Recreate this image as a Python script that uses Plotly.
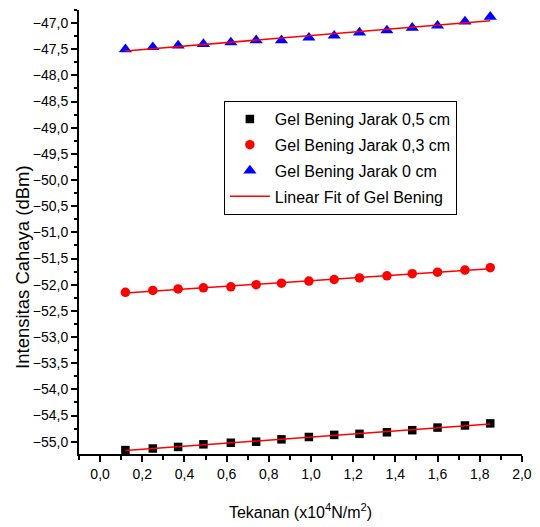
import numpy as np
import plotly.graph_objects as go

pressure = [0.12, 0.25, 0.37, 0.49, 0.62, 0.74, 0.86, 0.99, 1.11, 1.23, 1.36, 1.48, 1.60, 1.73, 1.85]
jarak_05 = [-55.16, -55.13, -55.10, -55.05, -55.02, -55.00, -54.955, -54.91, -54.87, -54.85, -54.82, -54.78, -54.73, -54.69, -54.65]
jarak_03 = [-52.145, -52.11, -52.08, -52.06, -52.04, -52.00, -51.97, -51.93, -51.90, -51.87, -51.83, -51.79, -51.76, -51.72, -51.675]
jarak_0 = [-47.50, -47.46, -47.43, -47.40, -47.37, -47.33, -47.33, -47.28, -47.24, -47.18, -47.14, -47.09, -47.05, -46.97, -46.88]

series_names = ["Gel Bening Jarak 0,5 cm", "Gel Bening Jarak 0,3 cm", "Gel Bening Jarak 0 cm"]
fit_name = "Linear Fit of Gel Bening"

FONT = "Liberation Sans, Arial, sans-serif"

fig = go.Figure()
styles = [
    dict(symbol="square", size=8.5, color="black"),
    dict(symbol="circle", size=9.5, color="red"),
    dict(symbol="triangle-up", size=11.5, color="blue"),
]
all_series = [jarak_05, jarak_03, jarak_0]
for i, (name, ys, st) in enumerate(zip(series_names, all_series, styles)):
    fig.add_trace(go.Scatter(
        x=pressure, y=ys, mode="markers", name=name,
        legendgroup=f"g{i}",
        marker=dict(symbol=st["symbol"], size=st["size"], color=st["color"], line=dict(width=0)),
    ))

xs = np.array(pressure)
for i, ys in enumerate(all_series):
    m, b = np.polyfit(xs, np.array(ys), 1)
    xf = [xs.min(), xs.max()]
    fig.add_trace(go.Scatter(
        x=xf, y=[m * v + b for v in xf], mode="lines", name=fit_name,
        legendgroup="fit", showlegend=(i == 0),
        line=dict(color="red", width=1.5),
    ))

axis_common = dict(
    showline=True, linecolor="black", linewidth=2,
    ticks="outside", ticklen=6, tickwidth=1.5, tickcolor="black",
    showgrid=False, zeroline=False, mirror=False,
    tickfont=dict(family=FONT, size=14, color="black"),
    automargin=False,
)

fig.update_xaxes(
    range=[-0.1, 2.0005], dtick=0.2, tick0=0, tickformat=".1f",
    minor=dict(dtick=0.1, ticks="outside", ticklen=3.5, tickwidth=1.5, tickcolor="black"),
    title=dict(text="Tekanan (x10<sup>4</sup>N/m<sup>2</sup>)", font=dict(family=FONT, size=16, color="black"), standoff=26),
    **axis_common,
)
fig.update_yaxes(
    range=[-55.235, -46.75], dtick=0.5, tick0=-47, tickformat=".1f",
    minor=dict(dtick=0.25, ticks="outside", ticklen=3.5, tickwidth=1.5, tickcolor="black"),
    **axis_common,
)

fig.add_annotation(
    text="Intensitas Cahaya (dBm)", textangle=-90,
    xref="paper", yref="paper", x=-0.128, y=0.422,
    xanchor="center", yanchor="middle", showarrow=False,
    font=dict(family=FONT, size=18.5, color="black"),
)

# page body adds an 8px offset; figure sized so the plot lands where the reference has it
fig.update_layout(
    width=532, height=519,
    margin=dict(l=71, r=18, t=2, b=73, autoexpand=False),
    paper_bgcolor="white", plot_bgcolor="white",
    separators=",.",
    legend=dict(
        x=0.327, y=0.795, xanchor="left", yanchor="top",
        bordercolor="black", borderwidth=1, bgcolor="white",
        font=dict(family=FONT, size=16, color="black"),
        traceorder="grouped", tracegroupgap=2,
        itemwidth=40,
    ),
)

fig.write_html("out.html")
